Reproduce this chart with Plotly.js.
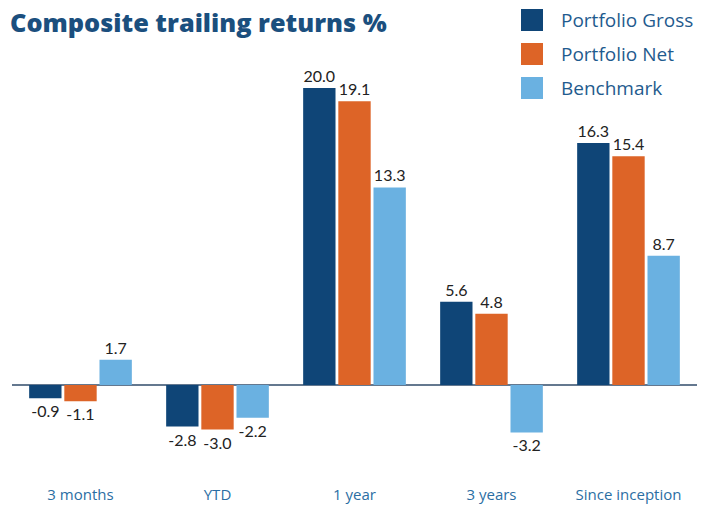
<!DOCTYPE html>
<html>
<head>
<meta charset="utf-8">
<script src="https://cdn.plot.ly/plotly-3.0.1.min.js"></script>
<style>html,body{margin:0;padding:0;background:#fff;}#chart{width:712px;height:506px;}</style>
</head>
<body>
<div id="chart"></div>
<script>
const categories = ["3 months", "YTD", "1 year", "3 years", "Since inception"];
const seriesNames = ["Portfolio Gross", "Portfolio Net", "Benchmark"];
const portfolioGross = [-0.9, -2.8, 20.0, 5.6, 16.3];
const portfolioNet = [-1.1, -3.0, 19.1, 4.8, 15.4];
const benchmark = [1.7, -2.2, 13.3, -3.2, 8.7];
const colors = ["#0f4577", "#dd6427", "#6ab1e1"];

const W = 712, H = 506;
const M = {l: 12, r: 15, t: 40, b: 26};
const pw = W - M.l - M.r, ph = H - M.t - M.b;
const px2x = p => (p - M.l) / pw;
const py2y = p => (H - M.b - p) / ph;

const values = [portfolioGross, portfolioNet, benchmark];
const traces = values.map((v, i) => ({
  type: "bar",
  name: seriesNames[i],
  x: categories,
  y: v,
  marker: {color: colors[i]},
  text: v.map(d => d.toFixed(1)),
  textposition: "outside",
  textfont: {family: "Lato, 'Open Sans', sans-serif", size: 16, color: "#222"},
  cliponaxis: false,
  hoverinfo: "none",
  showlegend: false
}));

const shapes = [], annotations = [];
seriesNames.forEach((n, i) => {
  const cy = 20 + i * 34;
  shapes.push({type: "rect", xref: "paper", yref: "paper",
    x0: px2x(521), x1: px2x(543), y0: py2y(cy + 11), y1: py2y(cy - 11),
    fillcolor: colors[i], line: {width: 0}});
  annotations.push({xref: "paper", yref: "paper", x: px2x(559), y: py2y(cy),
    xanchor: "left", yanchor: "middle", showarrow: false, text: n,
    font: {family: "'Open Sans', sans-serif", size: 19, color: "#1f5b8e"}});
});

const layout = {
  width: W, height: H,
  margin: M,
  paper_bgcolor: "#fff", plot_bgcolor: "#fff",
  title: {text: "Composite trailing returns %", xref: "container", x: 10 / W, xanchor: "left",
    yref: "container", y: 1 - 23 / H, yanchor: "middle",
    font: {family: "'Open Sans', sans-serif", size: 25.3, weight: 800, color: "#1b4f7e"}},
  barmode: "group",
  bargap: 0.23,
  bargroupgap: 0.08,
  xaxis: {showgrid: false, showline: false, ticks: "", ticklabelstandoff: 4,
    tickfont: {family: "'Open Sans', sans-serif", size: 15, color: "#2b6ea3"}},
  yaxis: {range: [-6.40, 23.23], showgrid: false, showticklabels: false, ticks: "",
    zeroline: true, zerolinecolor: "#64788f", zerolinewidth: 2},
  shapes: shapes,
  annotations: annotations
};

Plotly.newPlot("chart", traces, layout, {displayModeBar: false, staticPlot: true});
</script>
</body>
</html>
